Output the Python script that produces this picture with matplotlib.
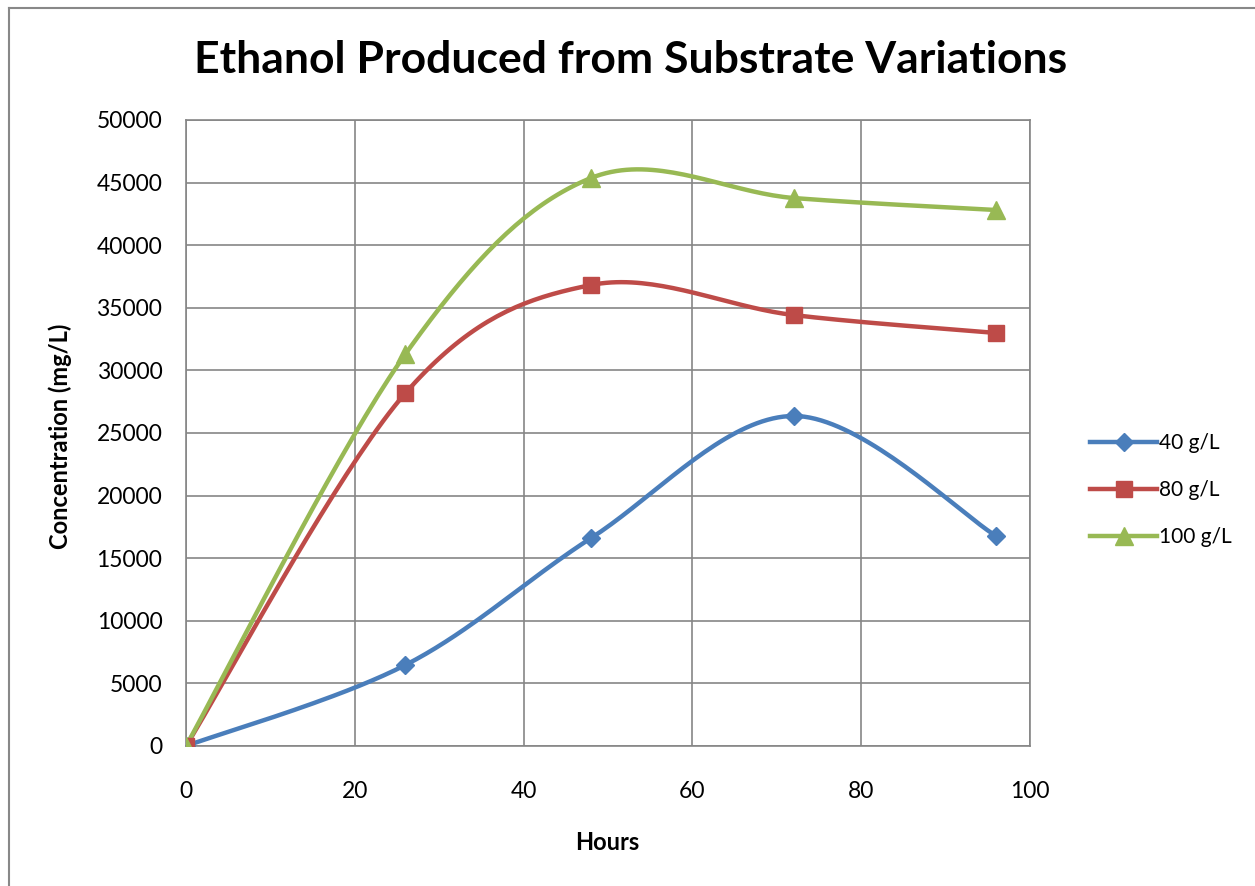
import numpy as np
import matplotlib
matplotlib.use("Agg")
import matplotlib.pyplot as plt
from matplotlib.lines import Line2D

hours = [0, 26, 48, 72, 96]
s40 = [0, 6470, 16610, 26360, 16770]
s80 = [0, 28190, 36820, 34420, 32990]
s100 = [0, 31310, 45370, 43770, 42810]
labels = ["40 g/L", "80 g/L", "100 g/L"]
colors = ["#4A7EBB", "#BE4B48", "#98B954"]
markers = ["D", "s", "^"]
msizes = [9, 12, 13]

plt.rcParams['font.family'] = ['Lato', 'DejaVu Sans']


def smooth(xs, ys, n=40):
    # Excel-style Bezier smoothing (Catmull-Rom control points)
    P = np.column_stack([xs, ys]).astype(float)
    out = [P[0]]
    m = len(P)
    for i in range(m - 1):
        p0 = P[i - 1] if i > 0 else P[i]
        p1 = P[i]
        p2 = P[i + 1]
        p3 = P[i + 2] if i + 2 < m else P[i + 1]
        c1 = p1 + (p2 - p0) / 6.0
        c2 = p2 - (p3 - p1) / 6.0
        t = np.linspace(0, 1, n)[1:, None]
        seg = ((1 - t) ** 3) * p1 + 3 * ((1 - t) ** 2) * t * c1 + 3 * (1 - t) * t ** 2 * c2 + t ** 3 * p2
        out.extend(seg)
    out = np.array(out)
    return out[:, 0], out[:, 1]


fig = plt.figure(figsize=(12.55, 8.86), dpi=100)
bx = 8.5 / 1255
by = 1 - 7.5 / 886
fig.add_artist(Line2D([bx, bx], [0, by], transform=fig.transFigure, color="#888888", linewidth=1.5))
fig.add_artist(Line2D([bx, 1], [by, by], transform=fig.transFigure, color="#888888", linewidth=1.5))
ax = fig.add_axes([186 / 1255, 140 / 886, 844 / 1255, 626 / 886])

for ys, lab, c, mk, ms in zip([s40, s80, s100], labels, colors, markers, msizes):
    sx, sy = smooth(hours, ys)
    ax.plot(sx, sy, color=c, linewidth=3.2, solid_capstyle="round", zorder=3)
    ax.plot(hours, ys, linestyle="none", marker=mk, markersize=ms, color=c, zorder=4)
    ax.plot([], [], color=c, linewidth=3.2, marker=mk, markersize=ms, label=lab)

ax.set_xlim(0, 100)
ax.set_ylim(0, 50000)
ax.set_xticks(range(0, 101, 20))
ax.set_yticks(range(0, 50001, 5000))
ax.grid(True, color="#868686", linewidth=1.2)
ax.set_axisbelow(True)
for s in ax.spines.values():
    s.set_color("#868686")
    s.set_linewidth(1.2)
ax.tick_params(length=0, labelsize=16.5, pad=17)
ax.tick_params(axis='x', pad=25)

fig.text(631 / 1255, 1 - 60 / 886, "Ethanol Produced from Substrate Variations",
         ha="center", va="center", fontsize=32, fontweight="bold")
fig.text(607 / 1255, 1 - 842 / 886, "Hours", ha="center", va="center", fontsize=17, fontweight="bold")
fig.text(60 / 1255, 1 - 436 / 886, "Concentration (mg/L)", ha="center", va="center",
         fontsize=17, fontweight="bold", rotation=90)

leg = fig.legend(loc="center left", bbox_to_anchor=(1082 / 1255, 1 - 490 / 886), frameon=False,
                 fontsize=15, handlelength=3.2, handletextpad=0.1, labelspacing=1.3, borderaxespad=0)

fig.savefig("out.png", dpi=100)
